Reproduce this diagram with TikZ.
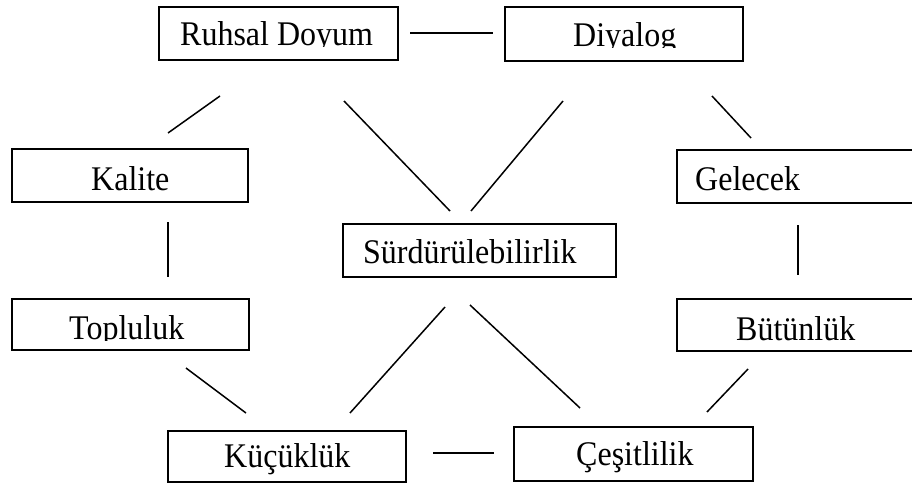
\documentclass[tikz,border=0pt]{standalone}
\usepackage{fontspec}
\setmainfont{Liberation Serif}
\newcommand{\tallword}[1]{\scalebox{1}[1.08]{#1}}
\begin{document}
\begin{tikzpicture}[x=1pt,y=-1pt,
  box/.style={draw=black,line width=2pt,rectangle,inner sep=0pt},
  word/.style={anchor=base west,inner sep=0pt,font=\fontsize{32}{37}\selectfont},
  link/.style={draw=black,line width=1.5pt}]
\useasboundingbox (0,0) rectangle (912,484);
\clip (0,0) rectangle (912,484);

% concept boxes (the two on the right run past the edge)
\node[box,minimum width=239pt,minimum height=53pt] (ruhsal)   at (278.5,33.5) {};
\node[box,minimum width=238pt,minimum height=54pt] (diyalog)  at (624,34) {};
\node[box,minimum width=236pt,minimum height=53pt] (kalite)   at (130,175.5) {};
\node[box,minimum width=239pt,minimum height=53pt] (gelecek)  at (796.5,176.5) {};
\node[box,minimum width=273pt,minimum height=53pt] (surd)     at (479.5,250.5) {};
\node[box,minimum width=237pt,minimum height=51pt] (topluluk) at (130.5,324.5) {};
\node[box,minimum width=239pt,minimum height=52pt] (butunluk) at (796.5,325) {};
\node[box,minimum width=238pt,minimum height=51pt] (kucukluk) at (287,456.5) {};
\node[box,minimum width=239pt,minimum height=54pt] (cesit)    at (633.5,454) {};

% labels; some are cut off just below the baseline
\begin{scope}
  \clip (150,0) rectangle (400,47);
  \node[word] (t-ruhsal) at (180,46) {\tallword{Ruhsal Doyum}};
\end{scope}
\begin{scope}
  \clip (500,0) rectangle (745,48);
  \node[word] (t-diyalog) at (573,47) {\tallword{Diyalog}};
\end{scope}
\node[word] (t-kalite)  at (91,190)  {\tallword{Kalite}};
\node[word] (t-gelecek) at (695,190) {\tallword{Gelecek}};
\node[word] (t-surd)    at (363,263) {\tallword{Sürdürülebilirlik}};
\begin{scope}
  \clip (0,290) rectangle (260,340);
  \node[word] (t-topluluk) at (69,339) {\tallword{Topluluk}};
\end{scope}
\node[word] (t-butunluk) at (736,340) {\tallword{Bütünlük}};
\node[word] (t-kucukluk) at (224,467) {\tallword{Küçüklük}};
\node[word] (t-cesit)    at (576,465) {\tallword{Çeşitlilik}};

% free-standing connector ends
\coordinate (rd-a) at (410,33);  \coordinate (rd-b) at (493,33);
\coordinate (rk-a) at (220,96);  \coordinate (rk-b) at (168,133);
\coordinate (rs-a) at (344,101); \coordinate (rs-b) at (450,211);
\coordinate (ds-a) at (563,101); \coordinate (ds-b) at (471,211);
\coordinate (dg-a) at (712,96);  \coordinate (dg-b) at (751,138);
\coordinate (kt-a) at (168,222); \coordinate (kt-b) at (168,277);
\coordinate (gb-a) at (798,225); \coordinate (gb-b) at (798,275);
\coordinate (tk-a) at (186,368); \coordinate (tk-b) at (246,413);
\coordinate (sk-a) at (445,307); \coordinate (sk-b) at (350,413);
\coordinate (sc-a) at (470,305); \coordinate (sc-b) at (580,408);
\coordinate (bc-a) at (748,369); \coordinate (bc-b) at (707,412);
\coordinate (kc-a) at (433,453); \coordinate (kc-b) at (494,453);

\draw[link] (rd-a) -- (rd-b);
\draw[link] (rk-a) -- (rk-b);
\draw[link] (rs-a) -- (rs-b);
\draw[link] (ds-a) -- (ds-b);
\draw[link] (dg-a) -- (dg-b);
\draw[link] (kt-a) -- (kt-b);
\draw[link] (gb-a) -- (gb-b);
\draw[link] (tk-a) -- (tk-b);
\draw[link] (sk-a) -- (sk-b);
\draw[link] (sc-a) -- (sc-b);
\draw[link] (bc-a) -- (bc-b);
\draw[link] (kc-a) -- (kc-b);
\end{tikzpicture}
\end{document}
